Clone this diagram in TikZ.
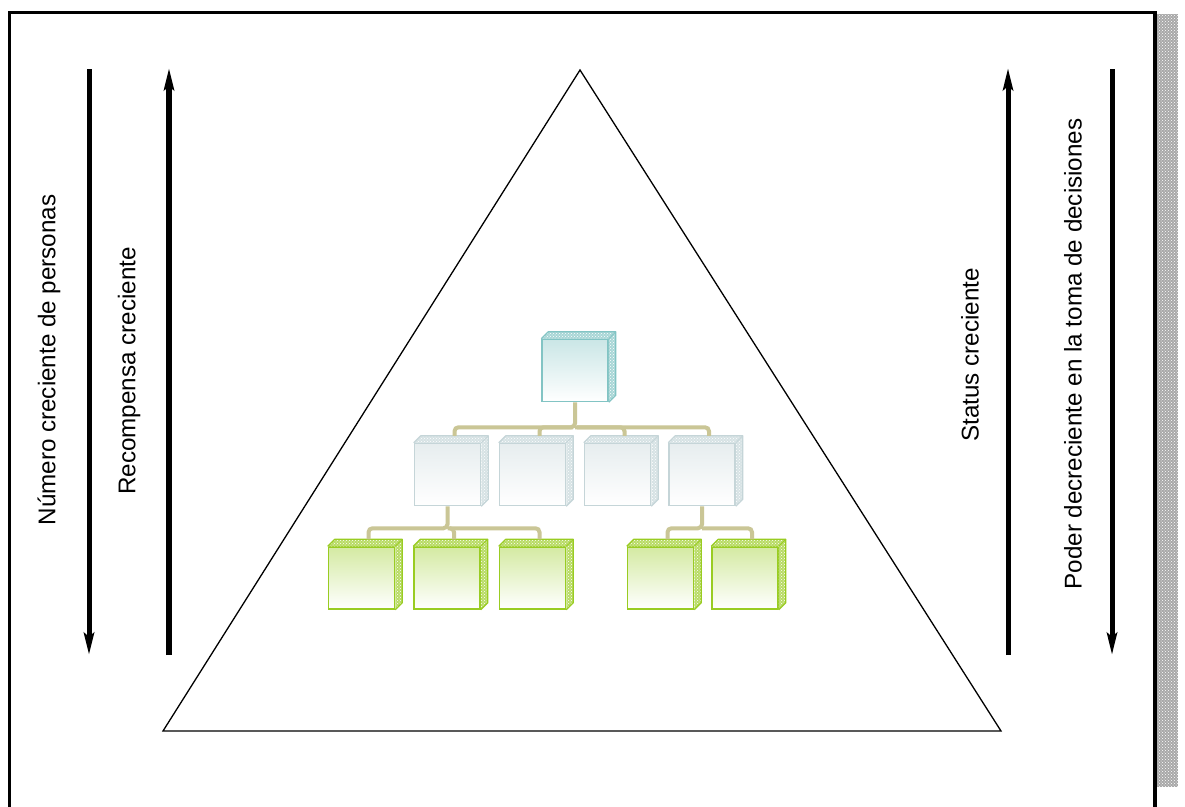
\documentclass[tikz,border=0pt]{standalone}
\usepackage{fontspec}
\setmainfont{Liberation Sans}
\usetikzlibrary{arrows.meta,patterns,shadings}

\definecolor{tealbox}{HTML}{82C4C4}
\definecolor{greybox}{HTML}{C5D5D8}
\definecolor{greenbox}{HTML}{99CC22}
\definecolor{linktan}{HTML}{CAC696}
\definecolor{shadowgrey}{HTML}{A8A8A8}

\tikzset{
  frameline/.style={line width=3.5pt, black},
  bigarrow/.style={line width=5pt, -{Stealth[length=22pt,width=10pt,inset=4pt]}},
  sidelabel/.style={rotate=90, font=\fontsize{24.2}{28}\selectfont, inner sep=0pt},
  boxface/.style={draw=#1, line width=1.5pt, minimum width=66pt, minimum height=62pt,
                  inner sep=0pt, top color=#1!42, bottom color=white},
  conn/.style={draw=linktan, line width=4pt, rounded corners=4pt},
}

% one chart box: front face node plus the patterned top and right faces
\newcommand{\orgbox}[4]{%
  \node[boxface=#4] (#1) at (#2,#3) {};
  \fill[#4!70] (#1.north west) -- ++(7,-7) -- ([shift={(7,-7)}]#1.north east)
     -- ([shift={(7,-7)}]#1.south east) -- (#1.south east) -- (#1.north east) -- cycle;
  \fill[pattern=crosshatch dots, pattern color=white] (#1.north west) -- ++(7,-7)
     -- ([shift={(7,-7)}]#1.north east) -- ([shift={(7,-7)}]#1.south east)
     -- (#1.south east) -- (#1.north east) -- cycle;
  \draw[#4, line width=1.2pt, line join=round] (#1.north west) -- ++(7,-7)
     -- ([shift={(7,-7)}]#1.north east) -- ([shift={(7,-7)}]#1.south east)
     -- (#1.south east);
  \draw[#4, line width=1pt] (#1.north east) -- ++(7,-7);
  \coordinate (#1-top) at ([shift={(7,-7)}]#1.north);
}

\begin{document}
\begin{tikzpicture}[x=1pt,y=-1pt]
\useasboundingbox (0,0) rectangle (1185,806);
\fill[white] (0,0) rectangle (1185,806);

% page frame and its shadow strip
\fill[shadowgrey] (1157,14) rectangle (1178,787);
\fill[pattern=crosshatch dots, pattern color=white] (1157,14) rectangle (1178,787);
\draw[frameline] (9.5,810) -- (9.5,12.5) -- (1155,12.5) -- (1155,810);

% pyramid
\coordinate (apex) at (580,70);
\coordinate (baseL) at (163,731);
\coordinate (baseR) at (1001,731);
\draw[line width=1.3pt, line join=miter] (apex) -- (baseR) -- (baseL) -- cycle;

% side arrows
\coordinate (a1s) at (89,69);   \coordinate (a1e) at (89,655);
\coordinate (a2s) at (169,655); \coordinate (a2e) at (169,68);
\coordinate (a3s) at (1008,655);\coordinate (a3e) at (1008,68);
\coordinate (a4s) at (1112,69); \coordinate (a4e) at (1112,655);
\draw[bigarrow] (a1s) -- (a1e);
\draw[bigarrow, line width=6pt] (a2s) -- (a2e);
\draw[bigarrow] (a3s) -- (a3e);
\draw[bigarrow] (a4s) -- (a4e);

% side labels
\node[sidelabel] (l1) at (49,360) {Número creciente de personas};
\node[sidelabel] (l2) at (129,371) {Recompensa creciente};
\node[sidelabel] (l3) at (970,355) {Status creciente};
\node[sidelabel] (l4) at (1073,354) {Poder decreciente en la toma de decisiones};

% organisation chart boxes
\orgbox{t}{575}{370.5}{tealbox}
\orgbox{m1}{447.5}{474.5}{greybox}
\orgbox{m2}{532.5}{474.5}{greybox}
\orgbox{m3}{617.5}{474.5}{greybox}
\orgbox{m4}{702}{474.5}{greybox}
\orgbox{b1}{361.5}{578}{greenbox}
\orgbox{b2}{447}{578}{greenbox}
\orgbox{b3}{532.5}{578}{greenbox}
\orgbox{b4}{660.5}{578}{greenbox}
\orgbox{b5}{745}{578}{greenbox}

% connectors between levels
\coordinate (tj) at ([yshift=-25]t.south);
\coordinate (m1j) at ([yshift=-22]m1.south);
\coordinate (m4j) at ([yshift=-22]m4.south);
\draw[conn] (t.south) -- (tj) -| (m1-top);
\draw[conn] (tj) -| (m4-top);
\draw[conn] ([xshift=-2]tj) -| (m2-top);
\draw[conn] ([xshift=2]tj) -| (m3-top);
\draw[conn] (m1.south) -- (m1j) -| (b1-top);
\draw[conn] (m1j) -| (b3-top);
\draw[conn] ([xshift=2]m1j) -| (b2-top);
\draw[conn] (m4.south) -- (m4j) -| (b4-top);
\draw[conn] (m4j) -| (b5-top);
\end{tikzpicture}
\end{document}
